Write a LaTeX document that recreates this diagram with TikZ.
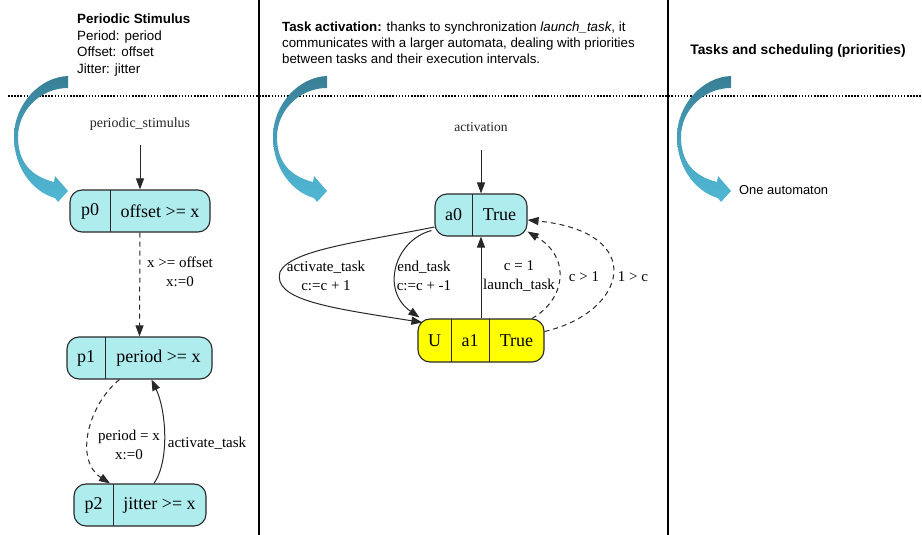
\documentclass[tikz,border=0pt]{standalone}
\usepackage{fontspec}
\setmainfont{Liberation Sans}
\newfontfamily\gv{Liberation Serif}
\usetikzlibrary{arrows.meta}
\definecolor{nodecyan}{RGB}{175,236,238}
\definecolor{nodeyellow}{RGB}{255,255,0}
\definecolor{arrdark}{RGB}{56,126,148}
\definecolor{arrmid}{RGB}{72,160,188}
\definecolor{arrlight}{RGB}{80,184,212}
\definecolor{edgegray}{RGB}{40,40,40}
\tikzset{
  stbox/.style={draw=edgegray, line width=1.1pt, rounded corners=12pt, inner sep=0pt},
  cyanbox/.style={stbox, fill=nodecyan},
  yelbox/.style={stbox, fill=nodeyellow},
  part/.style={inner sep=0pt, minimum height=42pt, font=\gv\fontsize{18}{20}\selectfont},
  divider/.style={draw=edgegray, line width=1.1pt},
  edge/.style={draw=edgegray, line width=1pt, -{Triangle[length=11pt,width=8pt]}},
  dashedge/.style={edge, dash pattern=on 5pt off 4pt},
  elabel/.style={font=\gv\fontsize{15}{19}\selectfont, align=center, inner sep=0pt},
  startlbl/.style={font=\gv\fontsize{14}{16}\selectfont, text=black!85, inner sep=0pt},
  headtxt/.style={font=\fontsize{13.4}{16.5}\selectfont, align=left, inner sep=0pt, anchor=north west},
  bigarrow/.style={top color=arrdark, bottom color=arrlight, middle color=arrmid, draw=none},
  sepline/.style={line width=1.5pt, black},
  dotline/.style={line width=1.5pt, black, dash pattern=on 1.5pt off 1.6pt},
}
\newcommand\bigcurl[1]{%
  \shade[bigarrow, shift={#1}] (0,0) -- (0,12)
    .. controls (-28,12) and (-50,35) .. (-50,61)
    .. controls (-50,85) and (-38,100) .. (-14,106)
    -- (-13,100) -- (0,115) -- (-10,126) -- (-13,122)
    .. controls (-35,116) and (-54,92) .. (-54,61)
    .. controls (-54,28) and (-28,1) .. (0,0) -- cycle;}
\begin{document}
\begin{tikzpicture}[x=1pt,y=-1pt]
\useasboundingbox (0,0) rectangle (922,535);
\fill[white] (0,0) rectangle (922,535);
% separators
\draw[sepline] (259,0) -- (259,535);
\draw[sepline] (668,0) -- (668,535);
\draw[dotline] (8,96) -- (922,96);
% headers
\node[headtxt] (h1) at (77,14) {\textbf{Periodic Stimulus}\\Period: period\\Offset: offset\\Jitter: jitter};
\node[headtxt, font=\fontsize{13.3}{16.2}\selectfont] (h2) at (282,21.5) {\textbf{Task activation:} thanks to synchronization \textit{launch\_task}, it\\communicates with a larger automata, dealing with priorities\\between tasks and their execution intervals.};
\node[font=\bfseries\fontsize{13.8}{16}\selectfont, inner sep=0pt] (h3) at (798,51) {Tasks and scheduling (priorities)};
\node[font=\fontsize{12.9}{15}\selectfont, anchor=west, inner sep=0pt] (h4) at (739,190) {One automaton};
% big arrows
\bigcurl{(68,76)}
\bigcurl{(327,76)}
\bigcurl{(731,76)}
% ---------- column 1 ----------
\node[startlbl] (stim) at (140,124) {periodic\_stimulus};
\coordinate (s0) at (140,145);
\node[cyanbox, minimum width=140pt, minimum height=42pt] (p0) at (140,211) {};
\node[part, minimum width=40pt] (p0a) at (90,211) {p0};
\node[part] (p0b) at (160,211) {offset >= x};
\draw[divider] (p0a.north east) -- (p0a.south east);

\node[cyanbox, minimum width=145pt, minimum height=42pt] (p1) at (139.5,358) {};
\node[part, minimum width=38pt] (p1a) at (86,358) {p1};
\node[part] (p1b) at (158.5,358) {period >= x};
\draw[divider] (p1a.north east) -- (p1a.south east);

\node[cyanbox, minimum width=132pt, minimum height=42pt] (p2) at (140,505) {};
\node[part, minimum width=39pt] (p2a) at (93.5,505) {p2};
\node[part] (p2b) at (159.5,505) {jitter >= x};
\draw[divider] (p2a.north east) -- (p2a.south east);

\draw[edge] (s0) -- (p0.north);
\draw[dashedge] (p0.south) -- (p1.north);
\node[elabel] (l1) at (180,272) {x >= offset\\x:=0};
\draw[dashedge] ([xshift=-20pt]p1.south) .. controls (88,405) and (74,460) .. ([xshift=-30pt]p2.north);
\node[elabel] (l2) at (129,445) {period = x\\x:=0};
\draw[edge] ([xshift=14pt]p2.north) .. controls (170,460) and (166,410) .. ([xshift=12pt]p1.south);
\node[elabel] (l3) at (207,443) {activate\_task};
% ---------- column 2 ----------
\node[startlbl, font=\gv\fontsize{13.5}{16}\selectfont] (act) at (481,127) {activation};
\coordinate (s1) at (481,150);
\node[cyanbox, minimum width=92pt, minimum height=42pt] (a0) at (481,215) {};
\node[part, minimum width=37pt] (a0a) at (453.5,215) {a0};
\node[part] (a0b) at (499.5,215) {True};
\draw[divider] (a0a.north east) -- (a0a.south east);

\node[yelbox, minimum width=126pt, minimum height=43pt] (U) at (481,340.5) {};
\node[part, minimum width=33pt, minimum height=43pt] (Ua) at (434.5,340.5) {U};
\node[part, minimum width=38pt, minimum height=43pt] (Ub) at (470,340.5) {a1};
\node[part] (Uc) at (516.5,340.5) {True};
\draw[divider] (Ua.north east) -- (Ua.south east);
\draw[divider] (Ub.north east) -- (Ub.south east);

\draw[edge] (s1) -- (a0.north);
\draw[edge] ([yshift=-12pt]a0.west) .. controls (360,242) and (290,250) .. (280,272)
   .. controls (272,300) and (330,308) .. ([xshift=5pt,yshift=-4pt]U.north west);
\node[elabel] (l4) at (326,276) {activate\_task\\c:=c + 1};
\draw[edge] ([xshift=-3pt,yshift=6pt]a0.south west) .. controls (395,240) and (380,290) .. ([xshift=2pt,yshift=1pt]U.north west);
\node[elabel] (l5) at (424,276) {end\_task\\c:=c + -1};
\draw[edge] (U.north) -- (a0.south);
\node[elabel] (l6) at (519,276) {c = 1\\launch\_task};
\draw[dashedge] ([xshift=51pt]U.north) .. controls (565,300) and (572,258) .. ([yshift=5pt]a0.south east);
\node[elabel] (l7) at (584,277) {c > 1};
\draw[dashedge] ([yshift=9pt]U.east) .. controls (628,312) and (648,232) .. ([yshift=-5pt]a0.east);
\node[elabel] (l8) at (633,277) {1 > c};
\end{tikzpicture}
\end{document}
